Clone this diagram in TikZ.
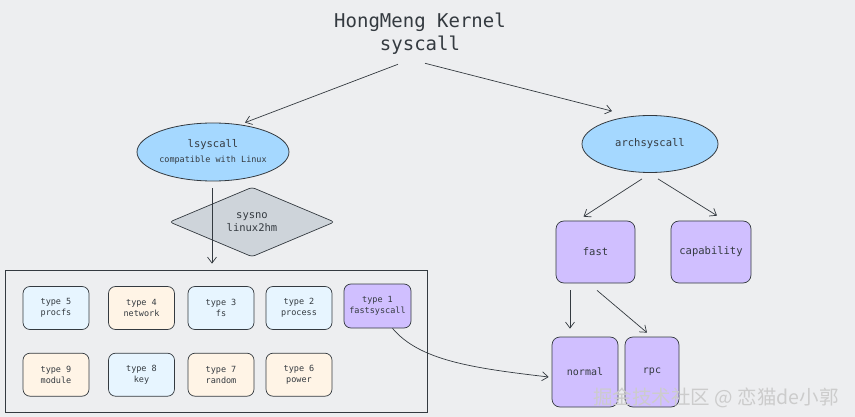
\documentclass[tikz,border=0pt]{standalone}
\usepackage{fontspec}
\setmonofont{DejaVu Sans Mono}
\newfontfamily\cjkfont{Noto Sans CJK SC}
\usetikzlibrary{positioning,arrows.meta,shapes.geometric}
\definecolor{SketchBg}{RGB}{237,238,240}
\definecolor{InkGray}{RGB}{52,58,64}
\definecolor{CallBlue}{RGB}{165,216,255}
\definecolor{PaleBlue}{RGB}{231,245,255}
\definecolor{PaleOrange}{RGB}{255,244,230}
\definecolor{FastPurple}{RGB}{208,191,255}
\definecolor{MapGray}{RGB}{206,212,218}

\begin{document}
\begin{tikzpicture}[x=1pt, y=-1pt,
  every node/.style={font=\ttfamily, align=center, text=InkGray},
  callarrow/.style={-{Straight Barb[length=6pt,width=9pt]}, draw=InkGray, line width=0.7pt},
  callellipse/.style={ellipse, draw=InkGray, fill=CallBlue, line width=0.8pt, inner sep=0pt},
  typebox/.style={draw=InkGray, rounded corners=7pt, minimum width=66pt, minimum height=43pt,
    inner sep=0pt, line width=0.7pt, font=\ttfamily\fontsize{8.5}{11}\selectfont},
  archbox/.style={draw=InkGray, fill=FastPurple, rounded corners=8pt, inner sep=0pt,
    line width=0.7pt, font=\ttfamily\fontsize{10.5}{13}\selectfont}]
  \useasboundingbox[fill=SketchBg] (0,0) rectangle (855,417);

  % title and the two call paths
  \node[font=\ttfamily\fontsize{19}{23}\selectfont] (title) at (420,34) {HongMeng Kernel\\syscall};
  \node[callellipse, minimum width=138pt, minimum height=58pt] (lsys) at (213,152)
    {\fontsize{10.5}{13}\selectfont lsyscall\\[3pt]\fontsize{8.5}{10}\selectfont compatible with Linux};
  \node[callellipse, minimum width=136pt, minimum height=57pt, font=\ttfamily\fontsize{10.5}{13}\selectfont]
    (arch) at (650,144) {archsyscall};
  \draw[callarrow] ([xshift=-22pt,yshift=-6pt]title.south) -- ([xshift=32pt]lsys.north);
  \draw[callarrow] ([xshift=5pt,yshift=-5pt]title.south) -- ([xshift=-38pt,yshift=4pt]arch.north);

  % lsyscall side
  \node[diamond, draw=InkGray, fill=MapGray, rounded corners=3pt, line width=0.7pt, inner sep=0pt,
    minimum width=165pt, minimum height=62pt, font=\ttfamily\fontsize{10.5}{13}\selectfont]
    (map) at (252,222) {sysno\\linux2hm};
  \node[draw=InkGray, line width=0.7pt, minimum width=422pt, minimum height=142pt, inner sep=0pt]
    (types) at (216,341) {};
  \draw[callarrow] ([xshift=-1pt,yshift=-7pt]lsys.south) coordinate (down)
    -- ([yshift=6pt]down |- types.north);

  \node[typebox, fill=PaleBlue] (t5) at (56,308) {type 5\\procfs};
  \node[typebox, fill=PaleOrange] (t4) at (141.5,308) {type 4\\network};
  \node[typebox, fill=PaleBlue] (t3) at (221,308) {type 3\\fs};
  \node[typebox, fill=PaleBlue] (t2) at (299,308) {type 2\\process};
  \node[typebox, fill=FastPurple, minimum width=67pt, minimum height=44pt] (t1) at (377.5,306) {type 1\\fastsyscall};
  \node[typebox, fill=PaleOrange, below=23pt of t5] (t9) {type 9\\module};
  \node[typebox, fill=PaleBlue, below=23pt of t4] (t8) {type 8\\key};
  \node[typebox, fill=PaleOrange, below=23pt of t3] (t7) {type 7\\random};
  \node[typebox, fill=PaleOrange, below=23pt of t2] (t6) {type 6\\power};

  % archsyscall side
  \node[archbox, minimum width=79pt, minimum height=62pt] (fast) at (595.5,252) {fast};
  \node[archbox, minimum width=80pt, minimum height=62pt] (cap) at (711,252) {capability};
  \node[archbox, minimum width=66pt, minimum height=70pt, font=\ttfamily\fontsize{10}{12}\selectfont]
    (normal) at (585,372) {normal};
  \node[archbox, minimum width=54pt, minimum height=70pt, font=\ttfamily\fontsize{10}{12}\selectfont]
    (rpc) at (652,372) {rpc};
  \draw[callarrow] ([xshift=-8pt,yshift=-6pt]arch.south) -- ([xshift=-12pt,yshift=4pt]fast.north);
  \draw[callarrow] ([xshift=8pt,yshift=-6pt]arch.south) -- ([xshift=6pt,yshift=5pt]cap.north);
  \draw[callarrow] ([xshift=-25.5pt,yshift=-7pt]fast.south) -- ([xshift=-15pt,yshift=8pt]normal.north);
  \draw[callarrow] ([xshift=1.5pt,yshift=-7pt]fast.south) -- ([xshift=-5pt,yshift=4pt]rpc.north);
  \draw[callarrow] ([xshift=15pt]t1.south) .. controls +(27,32) and +(-77,-9) .. ([xshift=-3pt,yshift=-5pt]normal.west);

  \node[font=\cjkfont\fontsize{19.5}{20}\selectfont, text=white!60!gray] (mark) at (716,398)
    {掘金技术社区 @ 恋猫de小郭};
\end{tikzpicture}
\end{document}
